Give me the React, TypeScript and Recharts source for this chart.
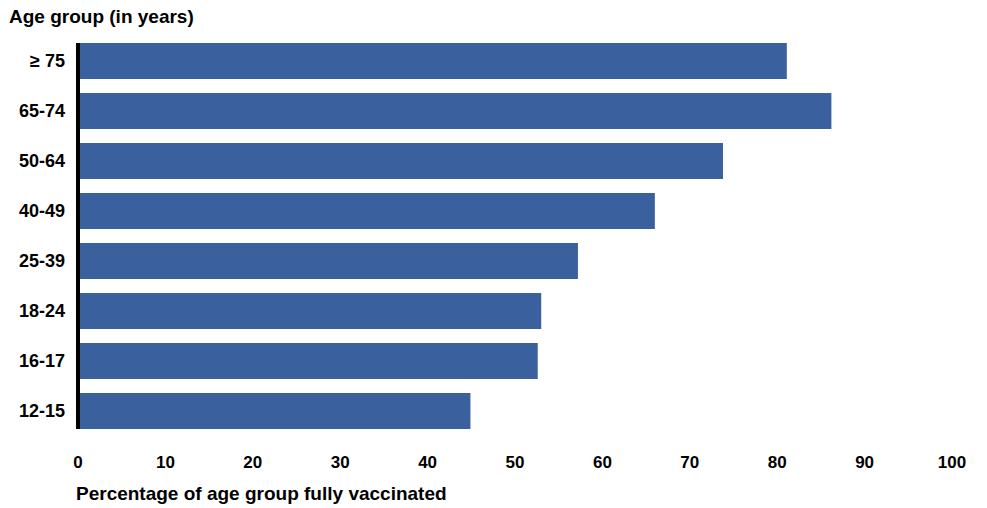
import React from "react";
import { BarChart, Bar, XAxis, YAxis } from "recharts";

const ageGroups = ["≥ 75", "65-74", "50-64", "40-49", "25-39", "18-24", "16-17", "12-15"];
const vaccinated = [81.1, 86.2, 73.8, 66.0, 57.2, 53.0, 52.6, 44.9];
const xTicks = [0, 10, 20, 30, 40, 50, 60, 70, 80, 90, 100];

const data = ageGroups.map((group, i) => ({ group, value: vaccinated[i] }));

const font = "'Liberation Sans', Arial, sans-serif";

export default function App() {
  return (
    <div style={{ position: "absolute", left: 0, top: 0, width: 987, height: 508, background: "#fff", fontFamily: font }}>
      <style>{"body{margin:0}"}</style>
      <div style={{ position: "absolute", left: 9, top: 6, fontSize: 19, fontWeight: 700, color: "#000" }}>
        Age group (in years)
      </div>
      <BarChart
        width={987}
        height={508}
        data={data}
        layout="vertical"
        margin={{ top: 43, right: 35, bottom: 0, left: 0 }}
      >
        <Bar dataKey="value" fill="#3A609D" barSize={36} isAnimationActive={false} />
        <XAxis
          type="number"
          domain={[0, 100]}
          ticks={xTicks}
          axisLine={false}
          tickLine={false}
          tickSize={0}
          tickMargin={27}
          height={79}
          tick={{ fill: "#000", fontSize: 17, fontWeight: 700, fontFamily: font }}
        />
        <YAxis
          type="category"
          dataKey="group"
          width={78}
          padding={{ top: -7, bottom: -7 }}
          axisLine={{ stroke: "#000", strokeWidth: 4 }}
          tickLine={false}
          tickSize={0}
          tickMargin={13}
          tick={{ fill: "#000", fontSize: 18, fontWeight: 700, fontFamily: font }}
        />
      </BarChart>
      <div style={{ position: "absolute", left: 76, top: 483, fontSize: 19, fontWeight: 700, color: "#000" }}>
        Percentage of age group fully vaccinated
      </div>
    </div>
  );
}
